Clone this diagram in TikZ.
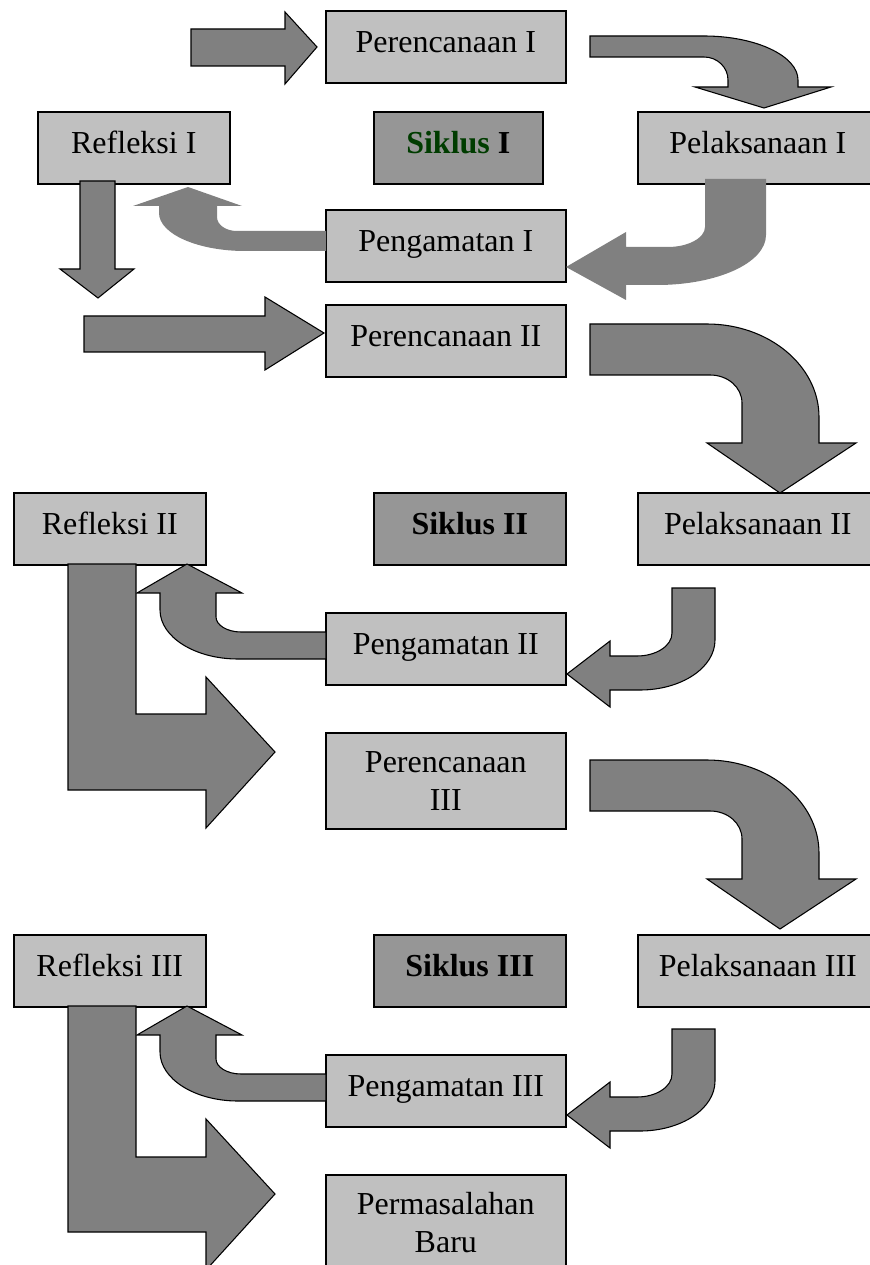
\documentclass[tikz,border=0pt]{standalone}
\usepackage{fontspec}
\setmainfont{Liberation Serif}
\usepackage{tikz}
\definecolor{abukotak}{RGB}{192,192,192}
\definecolor{abusiklus}{RGB}{150,150,150}
\definecolor{abupanah}{RGB}{128,128,128}
\definecolor{hijautua}{RGB}{0,60,0}

\begin{document}
\begin{tikzpicture}[x=0.375pt, y=-0.375pt, font=\fontsize{12}{14.5}\selectfont,
    kotak/.style={draw, line width=0.6pt, fill=abukotak, inner sep=0pt, anchor=north west,
        minimum width=90pt, text height=15.75pt, text depth=11.25pt},
    kotakdua/.style={kotak, align=center, text height=29.25pt, text depth=6.75pt},
    siklus/.style={kotak, fill=abusiklus, font=\fontsize{12}{14.5}\selectfont\bfseries},
    panahgaris/.style={draw, line width=0.4pt, fill=abupanah},
    panahpolos/.style={fill=abupanah}]
    \useasboundingbox (0,0) rectangle (869,1265);

    % Siklus I
    \node[kotak] (renc1) at (325,10) {Perencanaan I};
    \node[kotak, minimum width=72pt] (refl1) at (37,111) {Refleksi I};
    \node[siklus, minimum width=63.4pt] (sikl1) at (373,111) {{\color{hijautua}Siklus} I};
    \node[kotak] (laks1) at (637,111) {Pelaksanaan I};
    \node[kotak] (amat1) at (325,209) {Pengamatan I};

    % Siklus II
    \node[kotak] (renc2) at (325,304) {Perencanaan II};
    \node[kotak, minimum width=72pt] (refl2) at (13,492) {Refleksi II};
    \node[siklus, minimum width=72pt] (sikl2) at (373,492) {Siklus II};
    \node[kotak] (laks2) at (637,492) {Pelaksanaan II};
    \node[kotak] (amat2) at (325,612) {Pengamatan II};

    % Siklus III
    \node[kotakdua] (renc3) at (325,732) {Perencanaan\\III};
    \node[kotak, minimum width=72pt] (refl3) at (13,934) {Refleksi III};
    \node[siklus, minimum width=72pt] (sikl3) at (373,934) {Siklus III};
    \node[kotak] (laks3) at (637,934) {Pelaksanaan III};
    \node[kotak] (amat3) at (325,1054) {Pengamatan III};
    \node[kotakdua] (baru) at (325,1174) {Permasalahan\\Baru};

    % panah siklus I
    \draw[panahgaris] (191,29) -- (285,29) -- (285,12) -- (317,47) -- (285,84) -- (285,66) -- (191,66) -- cycle;
    \draw[panahgaris] (590,36) -- (704,36) .. controls (756,36) and (798,56) .. (798,80) -- (798,87) -- (831,87)
        -- (764,108) -- (695,87) -- (728,87) -- (728,80) .. controls (728,67) and (717,57) .. (704,57) -- (590,57) -- cycle;
    \fill[panahpolos] (705,179) -- (766,179) -- (766,235) .. controls (766,263) and (717,285) .. (657,285) -- (626,285)
        -- (626,300) -- (566,267) -- (626,232) -- (626,247) -- (668,247) .. controls (688,247) and (705,238) .. (705,227) -- cycle;
    \fill[panahpolos] (326,231) -- (237,231) .. controls (226,231) and (217,225) .. (217,217) -- (217,206) -- (242,206)
        -- (188,187) -- (133,206) -- (159,206) -- (159,213) .. controls (159,234) and (198,251) .. (245,251) -- (326,251) -- cycle;
    \draw[panahgaris] (80,181) -- (115,181) -- (115,269) -- (134,269) -- (98,298) -- (60,269) -- (80,269) -- cycle;

    % panah siklus II
    \draw[panahgaris] (84,316) -- (265,316) -- (265,297) -- (324,333) -- (265,370) -- (265,352) -- (84,352) -- cycle;
    \draw[panahgaris] (590,324) -- (707,324) .. controls (769,324) and (819,366) .. (819,417) -- (819,443) -- (856,443)
        -- (780,493) -- (707,443) -- (742,443) -- (742,403) .. controls (742,387.5) and (728,375) .. (710,375) -- (590,375) -- cycle;
    \draw[panahgaris] (672,588) -- (715,588) -- (715,640) .. controls (715,668) and (681,690) .. (640,690) -- (610,690)
        -- (610,707) -- (567,674) -- (610,641) -- (610,656) -- (637,656) .. controls (656,656) and (672,646) .. (672,633) -- cycle;
    \draw[panahgaris] (326,632) -- (241,632) .. controls (227,632) and (216,625) .. (216,617) -- (216,593) -- (242,593)
        -- (187,564) -- (137,593) -- (160,593) -- (160,610) .. controls (160,637) and (195,659) .. (238,659) -- (326,659) -- cycle;
    \draw[panahgaris] (68,564) -- (136,564) -- (136,714) -- (206,714) -- (206,677) -- (275,752) -- (206,828) -- (206,790) -- (68,790) -- cycle;

    % panah siklus III
    \draw[panahgaris] (590,760) -- (707,760) .. controls (769,760) and (819,802) .. (819,853) -- (819,879) -- (856,879)
        -- (780,929) -- (707,879) -- (742,879) -- (742,839) .. controls (742,823.5) and (728,811) .. (710,811) -- (590,811) -- cycle;
    \draw[panahgaris] (672,1029) -- (715,1029) -- (715,1081) .. controls (715,1109) and (681,1131) .. (640,1131) -- (610,1131)
        -- (610,1148) -- (567,1115) -- (610,1082) -- (610,1097) -- (637,1097) .. controls (656,1097) and (672,1087) .. (672,1074) -- cycle;
    \draw[panahgaris] (326,1074) -- (241,1074) .. controls (227,1074) and (216,1067) .. (216,1059) -- (216,1035) -- (242,1035)
        -- (187,1006) -- (137,1035) -- (160,1035) -- (160,1052) .. controls (160,1079) and (195,1101) .. (238,1101) -- (326,1101) -- cycle;
    \draw[panahgaris] (68,1006) -- (136,1006) -- (136,1157) -- (206,1157) -- (206,1119) -- (275,1194) -- (206,1270) -- (206,1232) -- (68,1232) -- cycle;
\end{tikzpicture}
\end{document}
